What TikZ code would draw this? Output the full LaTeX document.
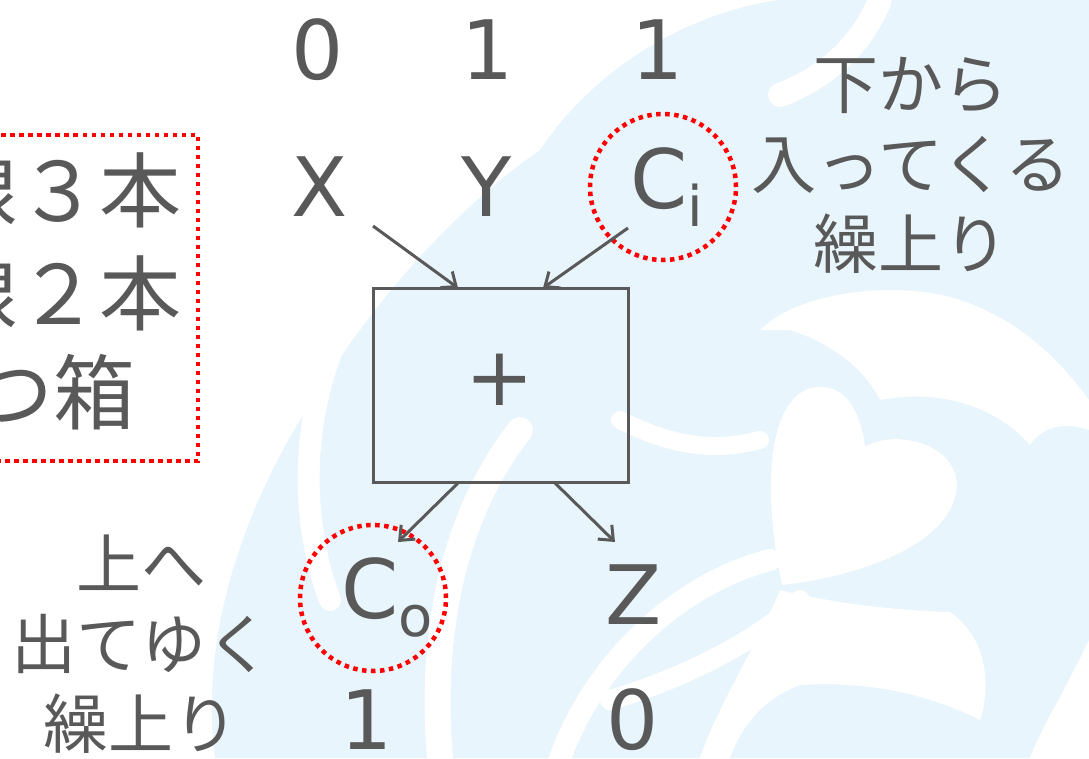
\documentclass[tikz,border=0pt]{standalone}
\usepackage{fontspec}
\setmainfont{DejaVu Sans}
\newfontfamily\jp{Noto Sans CJK JP}
\usetikzlibrary{arrows.meta}
\definecolor{txt}{HTML}{595959}
\definecolor{bgblue}{HTML}{E8F5FC}
\definecolor{dotred}{HTML}{FF0000}
\tikzset{
  lat/.style={text=txt, font=\fontsize{82}{82}\selectfont, inner sep=0pt},
  jpl/.style={text=txt, font=\jp\fontsize{65}{80}\selectfont, inner sep=0pt, align=center},
  jpbig/.style={text=txt, font=\jp\fontsize{82}{102}\selectfont, inner sep=0pt, align=right, anchor=east},
  reddots/.style={draw=dotred, line width=4.5pt, dash pattern=on 4.5pt off 4.5pt},
  redring/.style={reddots, circle, minimum size=146pt, inner sep=0pt},
  wire/.style={draw=txt, line width=3pt, -{Straight Barb[length=12pt,width=20pt,line width=3pt]}},
  adder/.style={draw=txt, line width=3pt, minimum width=255pt, minimum height=194pt, inner sep=0pt},
  band/.style={draw=white, line cap=round}
}
\begin{document}
\begin{tikzpicture}[x=1pt,y=-1pt]
\useasboundingbox (0,0) rectangle (1089,758);
% background decoration
\begin{scope}
\clip (0,0) rectangle (1089,758);
\fill[bgblue] (215,758) .. controls (200,640) and (240,520) .. (300,420) .. controls (360,320) and (440,220) .. (540,150) .. controls (600,60) and (700,10) .. (780,0) -- (1089,0) -- (1089,758) -- cycle;
% white swirls
\draw[band, line width=26pt] (440,758) .. controls (430,640) and (450,520) .. (520,430);
\draw[band, line width=22pt] (560,758) .. controls (600,650) and (690,580) .. (770,560);
\draw[band, line width=22pt] (340,330) .. controls (300,420) and (300,520) .. (330,600);
\draw[band, line width=20pt] (610,700) .. controls (680,680) and (760,640) .. (800,600);
\fill[white] (782,585) .. controls (760,480) and (770,390) .. (818,387) .. controls (850,385) and (862,420) .. (865,447) .. controls (890,430) and (955,440) .. (957,485) .. controls (955,540) and (870,575) .. cycle;
\fill[white] (760,330) .. controls (800,290) and (900,280) .. (960,300) .. controls (1020,320) and (1060,360) .. (1089,400) -- (1089,430) .. controls (1060,420) and (1040,430) .. (1030,445) .. controls (990,400) and (930,390) .. (880,400) .. controls (860,360) and (820,340) .. (790,330) -- cycle;
\fill[white] (700,758) .. controls (720,700) and (760,640) .. (780,590) .. controls (820,600) and (880,610) .. (950,612) .. controls (990,640) and (990,690) .. (980,720) .. controls (940,700) and (880,680) .. (800,685) .. controls (760,700) and (740,730) .. (730,758) -- cycle;
\fill[white] (1089,640) .. controls (1060,700) and (1040,730) .. (1030,758) -- (1089,758) -- cycle;
\draw[band, line width=24pt] (880,0) .. controls (860,50) and (820,80) .. (780,95);
\draw[band, line width=18pt] (620,420) .. controls (680,450) and (720,450) .. (760,440);
\end{scope}
% left box (partly outside the picture)
\begin{scope}
\clip (0,0) rectangle (1089,758);
\draw[reddots] (-200,135) rectangle (198,461);
\node[jpbig] (l1) at (182,190) {線３本};
\node[jpbig] (l2) at (182,293) {線２本};
\node[jpbig] (l3) at (136,392) {持つ箱};
\end{scope}
% top numbers
\node[lat] (n0) at (318,50) {0};
\node[lat] (n1) at (488,50) {1};
\node[lat] (n2) at (658,50) {1};
% inputs
\node[lat] (X) at (320,187) {X};
\node[lat] (Y) at (487,187) {Y};
\node[lat] (Ci) at (667,187) {C\raisebox{-18pt}{\fontsize{56}{56}\selectfont i}};
\node[redring] (ringi) at (663,187) {};
% adder
\node[adder] (box) at (500.5,385) {};
\node[lat] (plus) at (500,380) {+};
\coordinate (xin) at (373,226);
\coordinate (cin) at (628,228);
\draw[wire] (xin) -- (458,288);
\draw[wire] (cin) -- (543,288);
% outputs
\coordinate (oL) at (458,483);
\coordinate (oR) at (555,483);
\node[lat] (Co) at (387,597) {C\raisebox{-18pt}{\fontsize{56}{56}\selectfont o}};
\node[redring] (ringo) at (373,598) {};
\node[lat] (Z) at (634,595) {Z};
\draw[wire] (oL) -- (398,542);
\draw[wire] (oR) -- (615,542);
% bottom numbers
\node[lat] (b1) at (367,720) {1};
\node[lat] (b0) at (633,720) {0};
% side labels
\node[jpl] (up) at (911,165) {下から\\入ってくる\\繰上り};
\node[jpl] (down) at (141,644) {上へ\\出てゆく\\繰上り};
\end{tikzpicture}
\end{document}
